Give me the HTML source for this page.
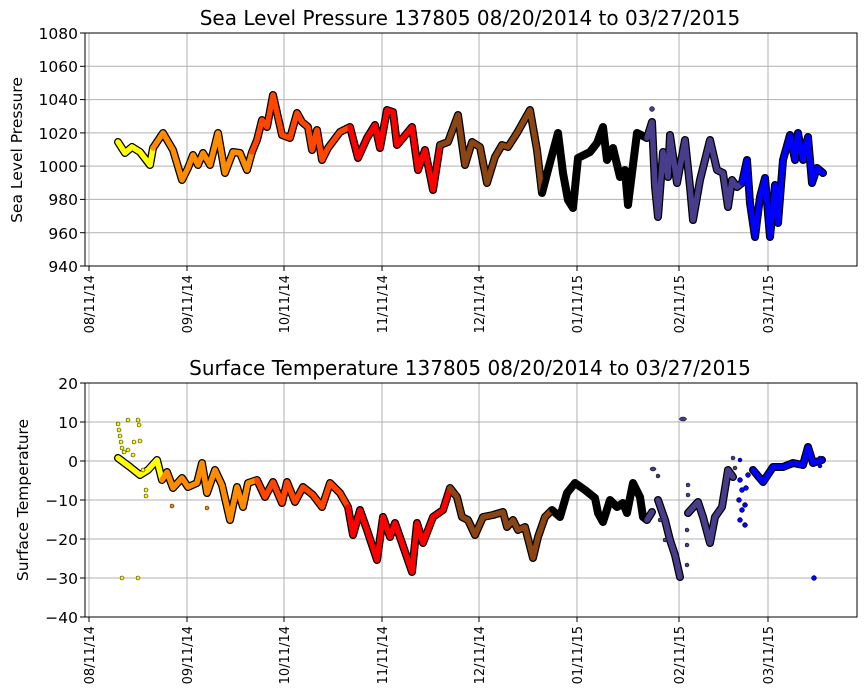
<!DOCTYPE html>
<html><head><style>body{margin:0;background:#fff}svg{display:block}text{font-family:"DejaVu Sans","Liberation Sans",sans-serif;fill:#000}</style></head>
<body>
<svg width="867" height="700" viewBox="0 0 867 700" xmlns="http://www.w3.org/2000/svg">
<defs>
<clipPath id="c1"><rect x="85" y="33" width="772" height="233"/></clipPath>
<clipPath id="c2"><rect x="85" y="383" width="772" height="234"/></clipPath>
</defs>
<g stroke="#b0b0b0" stroke-width="1">
<line x1="89" y1="33" x2="89" y2="266"/><line x1="187" y1="33" x2="187" y2="266"/><line x1="284" y1="33" x2="284" y2="266"/><line x1="382" y1="33" x2="382" y2="266"/><line x1="479" y1="33" x2="479" y2="266"/><line x1="577" y1="33" x2="577" y2="266"/><line x1="679" y1="33" x2="679" y2="266"/><line x1="768" y1="33" x2="768" y2="266"/>
<line x1="85" y1="66.3" x2="857" y2="66.3"/><line x1="85" y1="99.6" x2="857" y2="99.6"/><line x1="85" y1="132.9" x2="857" y2="132.9"/><line x1="85" y1="166.1" x2="857" y2="166.1"/><line x1="85" y1="199.4" x2="857" y2="199.4"/><line x1="85" y1="232.7" x2="857" y2="232.7"/>
<line x1="89" y1="383" x2="89" y2="617"/><line x1="187" y1="383" x2="187" y2="617"/><line x1="284" y1="383" x2="284" y2="617"/><line x1="382" y1="383" x2="382" y2="617"/><line x1="479" y1="383" x2="479" y2="617"/><line x1="577" y1="383" x2="577" y2="617"/><line x1="679" y1="383" x2="679" y2="617"/><line x1="768" y1="383" x2="768" y2="617"/>
<line x1="85" y1="422" x2="857" y2="422"/><line x1="85" y1="461" x2="857" y2="461"/><line x1="85" y1="500" x2="857" y2="500"/><line x1="85" y1="539" x2="857" y2="539"/><line x1="85" y1="578" x2="857" y2="578"/>
</g>
<g clip-path="url(#c1)" fill="none" stroke-linejoin="round" stroke-linecap="round">
<g stroke="#000" stroke-width="8">
<polyline points="118,142 125,153 132,147 140,152 150,165 153,148 163,133 173,150 182,180 188,168 193,155 198,165 203,153 210,165 218,133 225,173 233,152 240,153 247,170 252,152 257,140 262,120 267,127 273,95 282,135 290,138 297,113 302,122 308,127 312,150 317,130 322,160 328,148 340,132 350,127 358,158 367,138 375,125 380,148 387,110 393,112 397,145 403,138 412,127 418,170 425,150 433,190 440,145 448,142 458,115 465,165 472,142 480,147 487,183 495,157 502,145 508,147 517,133 530,110 537,150 542,193 548,170 558,133 563,173 568,200 573,208 578,158 590,152 597,143 603,127 607,160 613,148 620,177 625,170 628,205 637,133 647,138 652,122 655,187 658,217 663,152 668,177 670,135 677,183 685,140 690,187 693,220 700,180 710,140 717,170 723,173 728,207 732,180 737,187 742,183 747,160 750,203 755,237 760,197 765,178 770,237 775,185 778,223 783,160 790,135 795,160 798,133 803,160 808,137 812,183 817,168 823,173"/>
</g>
<g stroke-width="5.5">
<polyline stroke="#ffff00" points="118,142 125,153 132,147 140,152 150,165 153,148"/>
<polyline stroke="#ff8c00" points="153,148 163,133 173,150 182,180 188,168 193,155 198,165 203,153 210,165 218,133 225,173 233,152 240,153 247,170 252,152"/>
<polyline stroke="#ff4500" points="252,152 257,140 262,120 267,127 273,95 282,135 290,138 297,113 302,122 308,127 312,150 317,130 322,160 328,148 340,132 350,127"/>
<polyline stroke="#ff0000" points="350,127 358,158 367,138 375,125 380,148 387,110 393,112 397,145 403,138 412,127 418,170 425,150 433,190 440,145"/>
<polyline stroke="#8b4513" points="440,145 448,142 458,115 465,165 472,142 480,147 487,183 495,157 502,145 508,147 517,133 530,110 537,150 542,193"/>
<polyline stroke="#000" points="542,193 548,170 558,133 563,173 568,200 573,208 578,158 590,152 597,143 603,127 607,160 613,148 620,177 625,170 628,205 637,133 647,138"/>
<polyline stroke="#483d8b" points="647,138 652,122 655,187 658,217 663,152 668,177 670,135 677,183 685,140 690,187 693,220 700,180 710,140 717,170 723,173 728,207 732,180 737,187 742,183"/>
<polyline stroke="#0000ff" points="742,183 747,160 750,203 755,237 760,197 765,178 770,237 775,185 778,223 783,160 790,135 795,160 798,133 803,160 808,137 812,183 817,168 823,173"/>
</g>
<circle cx="652" cy="109" r="2.5" fill="#483d8b" stroke="#000" stroke-width="0.5"/>
</g>
<g clip-path="url(#c2)" fill="none" stroke-linejoin="round" stroke-linecap="round">
<g stroke="#000" stroke-width="8">
<polyline points="118,458 130,467 140,475 148,470 157,460 162,480 167,472 173,488 182,478 188,487 197,483 202,463 207,493 215,470 222,485 230,520 237,487 243,507 248,483 257,480 265,497 273,482 282,503 287,482 295,502 303,487 313,495 322,507 330,483 340,493 348,507 353,535 360,510 367,530 377,560 383,517 390,537 395,523 402,543 412,572 417,523 423,543 433,517 443,510 450,488 457,497 462,517 468,520 475,535 483,517 493,515 503,512 507,527 513,520 518,530 525,527 533,558 538,537 545,517 552,510 560,517 567,493 575,483 585,490 595,498 598,513 603,522 610,500 617,507 623,503 627,513 633,483 640,497 643,517 647,520 652,512"/>
<polyline points="658,500 665,520 670,540 675,555 680,577"/>
<polyline points="688,513 698,502 703,517 710,543 715,517 722,507 728,470 733,477"/>
<polyline points="753,470 763,482 773,467 783,467 793,463 803,465 808,447 813,463 822,460"/>
</g>
<g stroke-width="5.5">
<polyline stroke="#ffff00" points="118,458 130,467 140,475 148,470 157,460 162,480"/>
<polyline stroke="#ff8c00" points="162,480 167,472 173,488 182,478 188,487 197,483 202,463 207,493 215,470 222,485 230,520 237,487 243,507 248,483 257,480"/>
<polyline stroke="#ff4500" points="257,480 265,497 273,482 282,503 287,482 295,502 303,487 313,495 322,507 330,483 340,493 348,507"/>
<polyline stroke="#ff0000" points="348,507 353,535 360,510 367,530 377,560 383,517 390,537 395,523 402,543 412,572 417,523 423,543 433,517 443,510 450,488"/>
<polyline stroke="#8b4513" points="450,488 457,497 462,517 468,520 475,535 483,517 493,515 503,512 507,527 513,520 518,530 525,527 533,558 538,537 545,517 552,510"/>
<polyline stroke="#000" points="552,510 560,517 567,493 575,483 585,490 595,498 598,513 603,522 610,500 617,507 623,503 627,513 633,483 640,497 643,517 647,520"/>
<polyline stroke="#483d8b" points="647,520 652,512"/>
<polyline stroke="#483d8b" points="658,500 665,520 670,540 675,555 680,577"/>
<polyline stroke="#483d8b" points="688,513 698,502 703,517 710,543 715,517 722,507 728,470 733,477"/>
<polyline stroke="#0000ff" points="753,470 763,482 773,467 783,467 793,463 803,465 808,447 813,463 822,460"/>
</g>
<g stroke="#000" stroke-width="0.5" fill="#ffff00">
<circle cx="118" cy="424" r="2"/><circle cx="119" cy="430" r="2"/><circle cx="120" cy="436" r="2"/><circle cx="121" cy="442" r="2"/><circle cx="122" cy="448" r="2"/><circle cx="124" cy="452" r="2"/><circle cx="128" cy="420" r="2"/><circle cx="138" cy="420" r="2"/><circle cx="139" cy="425" r="2"/><circle cx="140" cy="441" r="2"/><circle cx="134" cy="442" r="2"/><circle cx="128" cy="450" r="2"/><circle cx="122" cy="578" r="2"/><circle cx="138" cy="578" r="2"/><circle cx="146" cy="496" r="2"/><circle cx="146" cy="490" r="2"/><circle cx="133" cy="455" r="2"/><circle cx="143" cy="470" r="2"/>
</g>
<g stroke="#000" stroke-width="0.5" fill="#ff8c00"><circle cx="172" cy="506" r="2"/><circle cx="207" cy="508" r="2"/></g>
<g stroke="#000" stroke-width="0.5" fill="#483d8b">
<ellipse cx="683" cy="419" rx="3.5" ry="2"/><ellipse cx="653" cy="469" rx="3" ry="2"/><circle cx="658" cy="476" r="2"/><circle cx="688" cy="485" r="2"/><circle cx="688" cy="495" r="2"/><circle cx="687" cy="530" r="2"/><circle cx="687" cy="545" r="2"/><circle cx="687" cy="565" r="2"/><circle cx="733" cy="458" r="2"/><circle cx="735" cy="468" r="2"/><circle cx="660" cy="520" r="2"/><circle cx="665" cy="540" r="2"/>
</g>
<g stroke="#000" stroke-width="0.5" fill="#0000ff">
<circle cx="814" cy="578" r="2.5"/><circle cx="740" cy="480" r="2.5"/><circle cx="742" cy="490" r="2.5"/><circle cx="739" cy="500" r="2.5"/><circle cx="742" cy="510" r="2.5"/><circle cx="740" cy="520" r="2.5"/><circle cx="745" cy="525" r="2.5"/><circle cx="745" cy="505" r="2.5"/><circle cx="746" cy="488" r="2.5"/><circle cx="748" cy="475" r="2.5"/><circle cx="740" cy="460" r="2"/><circle cx="820" cy="458" r="2"/><circle cx="820" cy="466" r="2"/>
</g>
</g>
<rect x="85" y="33" width="772" height="233" fill="none" stroke="#000" stroke-width="1"/>
<rect x="85" y="383" width="772" height="234" fill="none" stroke="#000" stroke-width="1"/>
<g stroke="#000" stroke-width="1">
<line x1="80" y1="33" x2="85" y2="33"/><line x1="80" y1="66.3" x2="85" y2="66.3"/><line x1="80" y1="99.6" x2="85" y2="99.6"/><line x1="80" y1="132.9" x2="85" y2="132.9"/><line x1="80" y1="166.1" x2="85" y2="166.1"/><line x1="80" y1="199.4" x2="85" y2="199.4"/><line x1="80" y1="232.7" x2="85" y2="232.7"/><line x1="80" y1="266" x2="85" y2="266"/>
<line x1="80" y1="383" x2="85" y2="383"/><line x1="80" y1="422" x2="85" y2="422"/><line x1="80" y1="461" x2="85" y2="461"/><line x1="80" y1="500" x2="85" y2="500"/><line x1="80" y1="539" x2="85" y2="539"/><line x1="80" y1="578" x2="85" y2="578"/><line x1="80" y1="617" x2="85" y2="617"/>
<line x1="89" y1="266" x2="89" y2="271"/><line x1="187" y1="266" x2="187" y2="271"/><line x1="284" y1="266" x2="284" y2="271"/><line x1="382" y1="266" x2="382" y2="271"/><line x1="479" y1="266" x2="479" y2="271"/><line x1="577" y1="266" x2="577" y2="271"/><line x1="679" y1="266" x2="679" y2="271"/><line x1="768" y1="266" x2="768" y2="271"/>
<line x1="89" y1="617" x2="89" y2="622"/><line x1="187" y1="617" x2="187" y2="622"/><line x1="284" y1="617" x2="284" y2="622"/><line x1="382" y1="617" x2="382" y2="622"/><line x1="479" y1="617" x2="479" y2="622"/><line x1="577" y1="617" x2="577" y2="622"/><line x1="679" y1="617" x2="679" y2="622"/><line x1="768" y1="617" x2="768" y2="622"/>
</g>
<g font-size="15.5" text-anchor="end">
<text x="78" y="39">1080</text><text x="78" y="72">1060</text><text x="78" y="105">1040</text><text x="78" y="139">1020</text><text x="78" y="172">1000</text><text x="78" y="205">980</text><text x="78" y="239">960</text><text x="78" y="272">940</text>
<text x="78" y="389">20</text><text x="78" y="428">10</text><text x="78" y="467">0</text><text x="78" y="506">−10</text><text x="78" y="545">−20</text><text x="78" y="584">−30</text><text x="78" y="623">−40</text>
</g>
<g font-size="13" text-anchor="end">
<text transform="translate(94,275) rotate(-90)">08/11/14</text><text transform="translate(192,275) rotate(-90)">09/11/14</text><text transform="translate(289,275) rotate(-90)">10/11/14</text><text transform="translate(387,275) rotate(-90)">11/11/14</text><text transform="translate(484,275) rotate(-90)">12/11/14</text><text transform="translate(582,275) rotate(-90)">01/11/15</text><text transform="translate(684,275) rotate(-90)">02/11/15</text><text transform="translate(773,275) rotate(-90)">03/11/15</text>
<text transform="translate(94,626) rotate(-90)">08/11/14</text><text transform="translate(192,626) rotate(-90)">09/11/14</text><text transform="translate(289,626) rotate(-90)">10/11/14</text><text transform="translate(387,626) rotate(-90)">11/11/14</text><text transform="translate(484,626) rotate(-90)">12/11/14</text><text transform="translate(582,626) rotate(-90)">01/11/15</text><text transform="translate(684,626) rotate(-90)">02/11/15</text><text transform="translate(773,626) rotate(-90)">03/11/15</text>
</g>
<g font-size="15.5" text-anchor="middle">
<text transform="translate(22,150) rotate(-90)">Sea Level Pressure</text>
<text transform="translate(28,500) rotate(-90)">Surface Temperature</text>
</g>
<g font-size="20" text-anchor="middle" xml:space="preserve">
<text x="470" y="25">Sea Level Pressure 137805  08/20/2014 to 03/27/2015</text>
<text x="470" y="375">Surface Temperature 137805  08/20/2014 to 03/27/2015</text>
</g>
</svg>
</body></html>
